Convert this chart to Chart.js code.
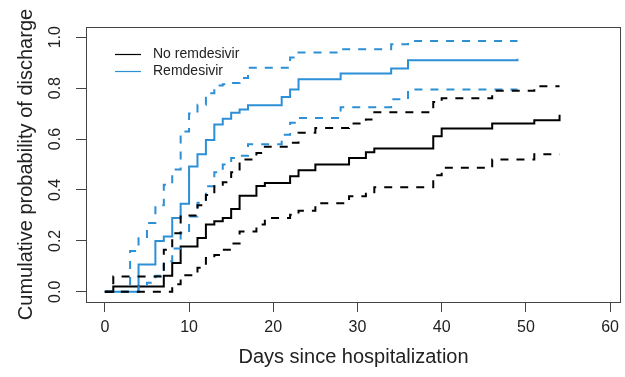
<!DOCTYPE html>
<html>
<head>
<meta charset="utf-8">
<script src="https://cdn.jsdelivr.net/npm/chart.js@4.4.1/dist/chart.umd.min.js"></script>
<style>
  html, body { margin: 0; padding: 0; background: #fff; }
  #wrap { width: 625px; height: 377px; }
</style>
</head>
<body>
<div id="wrap"><canvas id="kmChart" width="625" height="377"></canvas></div>
<script>
// axis ticks
const xTicks = [0, 10, 20, 30, 40, 50, 60];
const yTicks = [0, 0.2, 0.4, 0.6, 0.8, 1.0];

// No remdesivir: days, estimate, upper / lower confidence limits
const noRemDays  = [0, 1, 7, 8, 9, 11, 12, 13, 14, 15, 16, 18, 19, 22, 23, 25, 29, 31, 32, 39, 40, 46, 51, 54];
const noRemEst   = [0, 0.021, 0.063, 0.113, 0.178, 0.211, 0.264, 0.277, 0.29, 0.325, 0.377, 0.416, 0.427, 0.454, 0.477, 0.5, 0.526, 0.548, 0.563, 0.611, 0.641, 0.661, 0.674, 0.695];
const noRemUpper = [0, 0.06, 0.165, 0.23, 0.30, 0.34, 0.38, 0.42, 0.43, 0.47, 0.52, 0.545, 0.57, 0.585, 0.625, 0.643, 0.661, 0.677, 0.705, 0.745, 0.76, 0.79, 0.807, 0.807];
const noRemLower = [0, 0, 0, 0.03, 0.065, 0.095, 0.133, 0.145, 0.165, 0.19, 0.237, 0.264, 0.29, 0.303, 0.318, 0.348, 0.375, 0.385, 0.411, 0.458, 0.487, 0.52, 0.54, 0.54];

// Remdesivir
const remDays  = [0, 3, 4, 5, 6, 7, 8, 9, 10, 11, 12, 13, 14, 15, 16, 17, 21, 22, 23, 28, 34, 36, 49];
const remEst   = [0, 0, 0.107, 0.107, 0.2, 0.217, 0.29, 0.346, 0.492, 0.54, 0.596, 0.657, 0.68, 0.703, 0.716, 0.733, 0.765, 0.795, 0.835, 0.857, 0.877, 0.909, 0.915];
const remUpper = [0, 0.16, 0.21, 0.27, 0.34, 0.42, 0.48, 0.63, 0.70, 0.735, 0.78, 0.81, 0.815, 0.82, 0.84, 0.88, 0.88, 0.92, 0.94, 0.953, 0.972, 0.985, 0.985];
const remLower = [0, 0, 0.02, 0.036, 0.063, 0.12, 0.17, 0.23, 0.296, 0.35, 0.415, 0.47, 0.5, 0.526, 0.534, 0.58, 0.617, 0.664, 0.683, 0.725, 0.756, 0.795, 0.795];

const BLACK = '#000000';
const BLUE = '#2d8fd5';
const FONT = "'Liberation Sans', Arial, Helvetica, sans-serif";

const pts = (xs, ys) => xs.map((x, i) => ({ x: x, y: ys[i] }));

const stepLine = (label, xs, ys, color, dashed) => ({
  label: label,
  data: pts(xs, ys),
  borderColor: color,
  borderWidth: 2,
  borderDash: dashed ? [8, 8] : [],
  stepped: 'before',
  pointRadius: 0,
  fill: false
});

// frame, rotated y labels and legend drawn like R base graphics
const rStyle = {
  id: 'rStyle',
  afterDraw(chart) {
    const { ctx, chartArea: a, scales: { y } } = chart;
    ctx.save();
    ctx.strokeStyle = '#444';
    ctx.lineWidth = 1;
    ctx.setLineDash([]);
    ctx.strokeRect(a.left + 0.5, a.top + 0.5, a.right - a.left - 1, a.bottom - a.top);

    ctx.fillStyle = '#222';
    ctx.font = '16px ' + FONT;
    ctx.textAlign = 'center';
    ctx.textBaseline = 'middle';
    yTicks.forEach(v => {
      ctx.save();
      ctx.translate(56, y.getPixelForValue(v));
      ctx.rotate(-Math.PI / 2);
      ctx.fillText(v.toFixed(1), 0, 0);
      ctx.restore();
    });

    // legend
    const items = [
      { text: 'No remdesivir', color: BLACK, y: 54 },
      { text: 'Remdesivir', color: BLUE, y: 71 }
    ];
    ctx.font = '14px ' + FONT;
    ctx.textAlign = 'left';
    items.forEach(it => {
      ctx.strokeStyle = it.color;
      ctx.lineWidth = 1.2;
      ctx.beginPath();
      ctx.moveTo(115, it.y + 0.5);
      ctx.lineTo(141, it.y + 0.5);
      ctx.stroke();
      ctx.fillStyle = '#222';
      ctx.fillText(it.text, 153, it.y);
    });
    ctx.restore();
  }
};

new Chart(document.getElementById('kmChart'), {
  type: 'line',
  data: {
    datasets: [
      stepLine('No remdesivir upper', noRemDays, noRemUpper, BLACK, true),
      stepLine('No remdesivir lower', noRemDays, noRemLower, BLACK, true),
      stepLine('Remdesivir upper', remDays, remUpper, BLUE, true),
      stepLine('Remdesivir lower', remDays, remLower, BLUE, true),
      stepLine('No remdesivir', noRemDays, noRemEst, BLACK, false),
      stepLine('Remdesivir', remDays, remEst, BLUE, false)
    ]
  },
  options: {
    responsive: false,
    animation: false,
    devicePixelRatio: 1,
    layout: { padding: { top: 27, right: 1, left: 0, bottom: 0 } },
    plugins: {
      legend: { display: false },
      tooltip: { enabled: false }
    },
    scales: {
      x: {
        type: 'linear',
        min: -2.24,
        max: 61.3,
        afterBuildTicks: (scale) => { scale.ticks = xTicks.map(v => ({ value: v })); },
        afterFit: (scale) => { scale.height = 75; },
        grid: { drawOnChartArea: false, drawTicks: true, tickLength: 10, color: '#444', lineWidth: 1 },
        border: { display: false },
        ticks: {
          color: '#222',
          font: { family: FONT, size: 16 },
          padding: 6,
          maxRotation: 0,
          autoSkip: false
        },
        title: {
          display: true,
          text: 'Days since hospitalization',
          color: '#222',
          font: { family: FONT, size: 20 },
          padding: { top: 0, bottom: 8 }
        }
      },
      y: {
        type: 'linear',
        min: -0.04,
        max: 1.04,
        afterBuildTicks: (scale) => { scale.ticks = yTicks.map(v => ({ value: v })); },
        afterFit: (scale) => { scale.width = 86; },
        grid: { drawOnChartArea: false, drawTicks: true, tickLength: 10, color: '#444', lineWidth: 1 },
        border: { display: false },
        ticks: { display: false },
        title: {
          display: true,
          text: 'Cumulative probability of discharge',
          color: '#222',
          font: { family: FONT, size: 20 },
          padding: { top: 14, bottom: 0 }
        }
      }
    }
  },
  plugins: [rStyle]
});
</script>
</body>
</html>
